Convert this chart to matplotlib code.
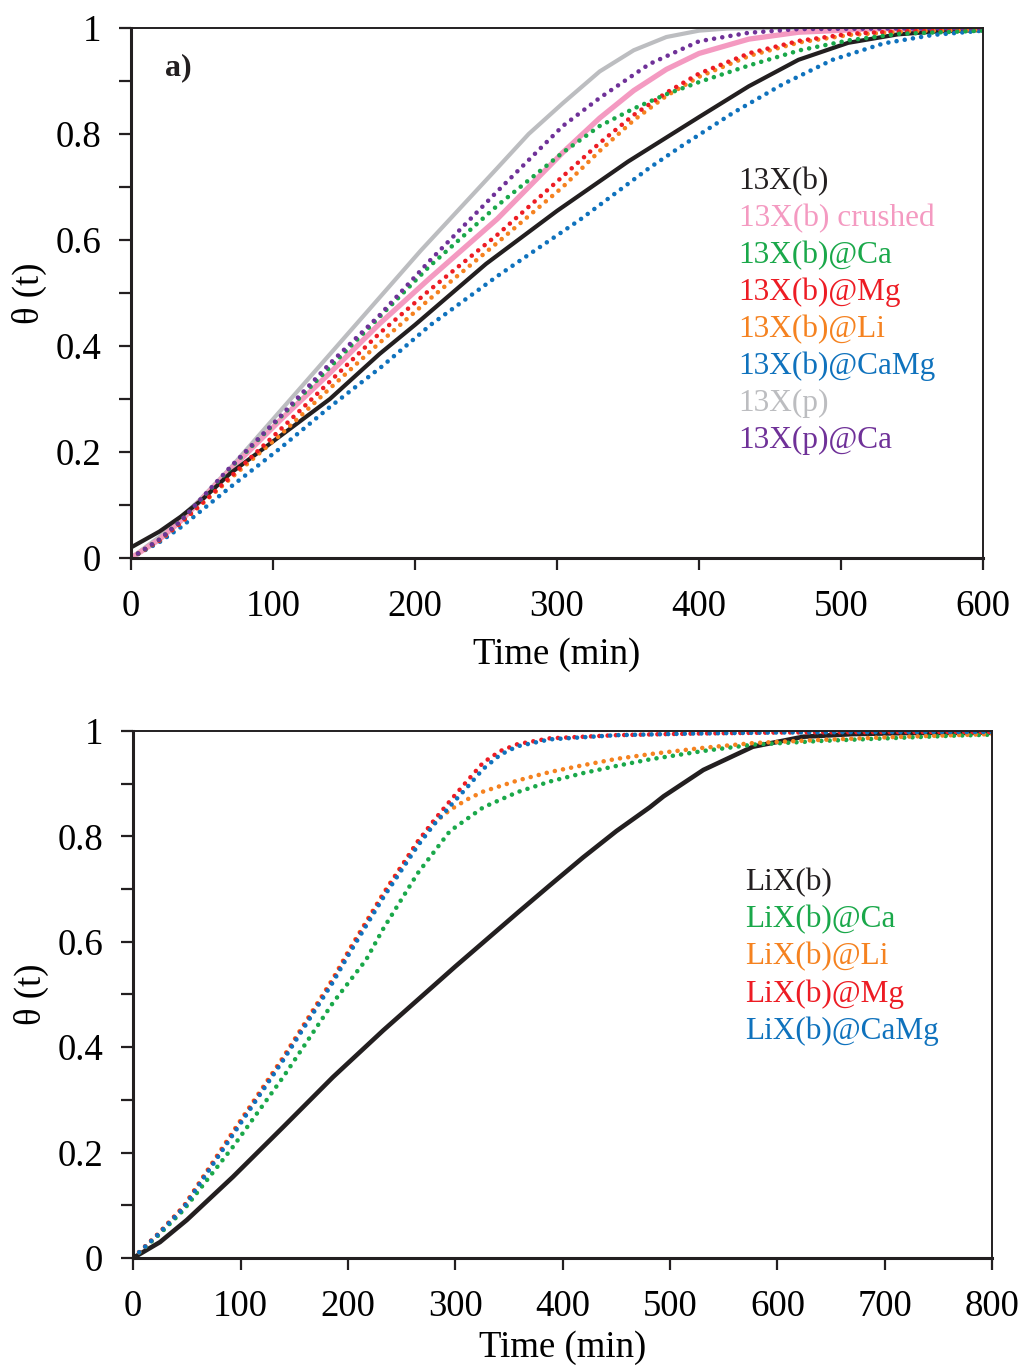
import matplotlib
matplotlib.use("Agg")
import matplotlib.pyplot as plt
from matplotlib.ticker import MultipleLocator, FuncFormatter

plt.rcParams['font.family'] = ['Liberation Serif', 'DejaVu Serif']

# ---------------- panel a) data ----------------
b13_t = [0, 20, 35, 50, 70, 100, 140, 175, 200, 250, 300, 350, 400, 435, 470, 505, 540, 570, 600]
b13_v = [0.02, 0.05, 0.078, 0.11, 0.16, 0.22, 0.30, 0.385, 0.44, 0.555, 0.655, 0.748, 0.832, 0.89, 0.94, 0.972, 0.988, 0.994, 0.996]

crushed_t = [0, 20, 35, 70, 105, 140, 175, 210, 258, 304, 330, 354, 377, 400, 435, 470, 520, 600]
crushed_v = [0, 0.035, 0.07, 0.167, 0.26, 0.349, 0.442, 0.527, 0.64, 0.765, 0.83, 0.882, 0.922, 0.952, 0.979, 0.992, 0.998, 1.0]

bca_t = [0, 20, 35, 70, 105, 140, 175, 210, 258, 304, 330, 354, 377, 400, 436, 471, 506, 541, 600]
bca_v = [0, 0.035, 0.07, 0.17, 0.265, 0.36, 0.455, 0.55, 0.665, 0.765, 0.815, 0.848, 0.875, 0.898, 0.93, 0.958, 0.977, 0.989, 0.995]

bmg_t = [0, 20, 35, 70, 105, 140, 175, 210, 258, 304, 330, 354, 377, 400, 436, 471, 506, 550, 600]
bmg_v = [0, 0.033, 0.066, 0.153, 0.242, 0.333, 0.424, 0.505, 0.61, 0.72, 0.783, 0.836, 0.878, 0.914, 0.953, 0.976, 0.989, 0.995, 0.998]

bli_t = [0, 20, 35, 70, 105, 140, 175, 210, 258, 304, 330, 354, 377, 400, 436, 471, 506, 550, 600]
bli_v = [0, 0.033, 0.066, 0.15, 0.232, 0.32, 0.406, 0.488, 0.595, 0.70, 0.768, 0.826, 0.872, 0.908, 0.948, 0.973, 0.987, 0.994, 0.997]

bcamg_t = [0, 20, 35, 70, 105, 140, 176, 211, 258, 316, 365, 387, 424, 459, 494, 530, 565, 600]
bcamg_v = [0, 0.03, 0.058, 0.134, 0.207, 0.285, 0.36, 0.44, 0.532, 0.638, 0.736, 0.776, 0.84, 0.894, 0.94, 0.971, 0.987, 0.995]

p13_t = [0, 20, 47, 70, 100, 150, 204, 258, 280, 304, 330, 354, 377, 400, 420, 450, 600]
p13_v = [0, 0.04, 0.106, 0.17, 0.262, 0.415, 0.58, 0.736, 0.80, 0.858, 0.918, 0.958, 0.983, 0.995, 0.999, 1.0, 1.0]

pca_t = [0, 20, 35, 70, 105, 140, 175, 210, 258, 304, 330, 365, 400, 435, 470, 600]
pca_v = [0, 0.035, 0.07, 0.172, 0.267, 0.367, 0.458, 0.56, 0.692, 0.815, 0.868, 0.932, 0.975, 0.991, 0.998, 1.0]

labels_a = ["13X(b)", "13X(b) crushed", "13X(b)@Ca", "13X(b)@Mg", "13X(b)@Li",
            "13X(b)@CaMg", "13X(p)", "13X(p)@Ca"]

# ---------------- panel b data ----------------
lix_t = [0, 25, 50, 93, 140, 186, 233, 279, 300, 358, 388, 419, 450, 481, 494, 531, 577, 624, 670, 720, 800]
lix_v = [0, 0.03, 0.072, 0.154, 0.249, 0.343, 0.432, 0.515, 0.553, 0.655, 0.707, 0.76, 0.81, 0.855, 0.876, 0.926, 0.97, 0.989, 0.994, 0.996, 0.997]

lica_t = [0, 23, 47, 93, 140, 186, 217, 233, 265, 295, 326, 358, 388, 419, 451, 481, 531, 577, 640, 702, 764, 800]
lica_v = [0, 0.042, 0.091, 0.211, 0.344, 0.484, 0.566, 0.625, 0.73, 0.81, 0.855, 0.884, 0.904, 0.92, 0.934, 0.946, 0.962, 0.974, 0.981, 0.986, 0.991, 0.993]

lili_t = [0, 23, 47, 93, 140, 186, 202, 233, 265, 280, 295, 311, 326, 358, 388, 419, 450, 485, 531, 577, 640, 702, 764, 800]
lili_v = [0, 0.045, 0.098, 0.24, 0.382, 0.53, 0.588, 0.692, 0.79, 0.825, 0.85, 0.87, 0.885, 0.906, 0.922, 0.935, 0.947, 0.957, 0.968, 0.977, 0.983, 0.988, 0.992, 0.994]

limg_t = [0, 23, 47, 93, 140, 186, 202, 233, 265, 280, 295, 311, 326, 342, 358, 388, 450, 520, 600, 700, 800]
limg_v = [0, 0.045, 0.097, 0.237, 0.379, 0.527, 0.585, 0.69, 0.79, 0.83, 0.867, 0.905, 0.94, 0.962, 0.975, 0.986, 0.992, 0.995, 0.997, 0.998, 0.998]

licamg_t = [0, 23, 47, 93, 140, 186, 202, 233, 265, 280, 295, 311, 326, 342, 358, 388, 450, 520, 600, 700, 800]
licamg_v = [0, 0.044, 0.095, 0.234, 0.376, 0.523, 0.58, 0.684, 0.782, 0.822, 0.857, 0.893, 0.928, 0.955, 0.971, 0.984, 0.992, 0.995, 0.997, 0.998, 0.998]

labels_b = ["LiX(b)", "LiX(b)@Ca", "LiX(b)@Li", "LiX(b)@Mg", "LiX(b)@CaMg"]

# ---------------- colours ----------------
C_BLACK = '#231f20'
C_PINK = '#f49ac1'
C_GREEN = '#1aa84a'
C_RED = '#ed1c24'
C_ORANGE = '#f58220'
C_BLUE = '#0f72bd'
C_GREY = '#bcbdc0'
C_PURPLE = '#6f3198'

DOT = dict(linestyle=(0, (0.01, 1.8)), dash_capstyle='round', linewidth=3.3)

fig = plt.figure(figsize=(10.24, 13.66), dpi=100)
ax1 = fig.add_axes([0.128, 0.5915, 0.832, 0.388])
ax2 = fig.add_axes([0.130, 0.0791, 0.839, 0.3858])

# panel a lines (drawing order)
ax1.plot(p13_t, p13_v, color=C_GREY, linewidth=3.0, solid_capstyle='round', solid_joinstyle='round')
ax1.plot(crushed_t, crushed_v, color=C_PINK, linewidth=3.8, solid_capstyle='round', solid_joinstyle='round')
ax1.plot(b13_t, b13_v, color=C_BLACK, linewidth=3.0, solid_capstyle='round', solid_joinstyle='round')
ax1.plot(bcamg_t, bcamg_v, color=C_BLUE, **DOT)
ax1.plot(bli_t, bli_v, color=C_ORANGE, **DOT)
ax1.plot(bmg_t, bmg_v, color=C_RED, **DOT)
ax1.plot(bca_t, bca_v, color=C_GREEN, **DOT)
ax1.plot(pca_t, pca_v, color=C_PURPLE, **DOT)

# panel b lines
ax2.plot(lix_t, lix_v, color=C_BLACK, linewidth=3.3, solid_capstyle='round', solid_joinstyle='round')
ax2.plot(lica_t, lica_v, color=C_GREEN, **DOT)
ax2.plot(lili_t, lili_v, color=C_ORANGE, **DOT)
ax2.plot(limg_t, limg_v, color=C_RED, **DOT)
ax2.plot(licamg_t, licamg_v, color=C_BLUE, **DOT)

cols_a = [C_BLACK, C_PINK, C_GREEN, C_RED, C_ORANGE, C_BLUE, C_GREY, C_PURPLE]
cols_b = [C_BLACK, C_GREEN, C_ORANGE, C_RED, C_BLUE]

fmt = FuncFormatter(lambda v, _: f"{v:g}")
for ax, xmax, xstep, lpad in [(ax1, 600, 100, 10), (ax2, 800, 100, 5)]:
    ax.set_xlim(0, xmax)
    ax.set_ylim(0, 1)
    ax.xaxis.set_major_locator(MultipleLocator(xstep))
    ax.yaxis.set_major_locator(MultipleLocator(0.2))
    ax.yaxis.set_minor_locator(MultipleLocator(0.1))
    ax.xaxis.set_major_formatter(fmt)
    ax.yaxis.set_major_formatter(fmt)
    ax.tick_params(axis='both', which='both', direction='out', length=8.5, width=1.6,
                   top=False, right=False, labelsize=26.5, color=C_BLACK)
    ax.tick_params(axis='y', which='both', pad=13)
    ax.tick_params(axis='x', which='both', pad=14)
    for s in ['left', 'bottom']:
        ax.spines[s].set_linewidth(2.2)
        ax.spines[s].set_color(C_BLACK)
    for s in ['top', 'right']:
        ax.spines[s].set_linewidth(1.4)
        ax.spines[s].set_color(C_BLACK)
    ax.set_xlabel("Time (min)", fontsize=26.5, labelpad=lpad)
    ax.set_ylabel("θ (t)", fontsize=26.5, labelpad=6)

# legends as coloured text
for i, (lab, c) in enumerate(zip(labels_a, cols_a)):
    ax1.text(0.713, 0.711 - i * 0.0698, lab, color=c, fontsize=22.5,
             transform=ax1.transAxes, ha='left', va='center')
for i, (lab, c) in enumerate(zip(labels_b, cols_b)):
    ax2.text(0.712, 0.7116 - i * 0.0702, lab, color=c, fontsize=22.5,
             transform=ax2.transAxes, ha='left', va='center')

ax1.text(0.04, 0.925, "a)", fontsize=23, fontweight='bold', transform=ax1.transAxes,
         ha='left', va='center', color=C_BLACK)

fig.savefig("out.png", dpi=100)
